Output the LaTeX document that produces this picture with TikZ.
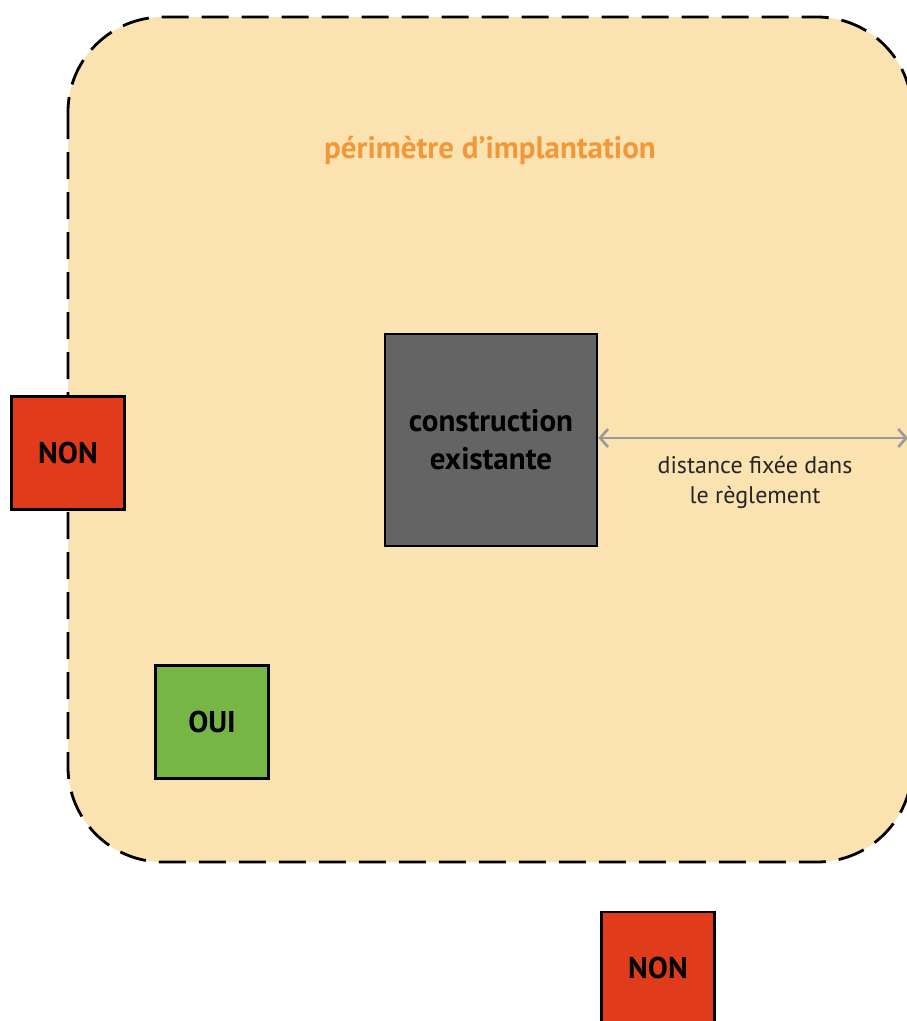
\documentclass[tikz,border=0pt]{standalone}
\usepackage{fontspec}
\setmainfont{PT Sans}
\usetikzlibrary{arrows.meta}
\definecolor{beige}{HTML}{FAE3B0}
\definecolor{titleorange}{HTML}{F2983A}
\definecolor{nonred}{HTML}{E03C1B}
\definecolor{ouigreen}{HTML}{77B545}
\definecolor{builtgray}{HTML}{646464}
\definecolor{arrowgray}{HTML}{9A9A9A}
\tikzset{
  sq/.style={draw=black, line width=2.6pt, minimum width=113pt, minimum height=113pt, inner sep=0pt, font=\fontsize{30}{34}\selectfont\bfseries, text=black},
  perim/.style={draw=black, fill=beige, line width=2.8pt, dash pattern=on 27pt off 13pt, rounded corners=95pt},
}
\begin{document}
\begin{tikzpicture}[x=1pt,y=-1pt]
\useasboundingbox (0,0) rectangle (907,1021);
\clip (0,0) rectangle (907,1021);
\fill[white] (0,0) rectangle (907,1021);
\draw[perim] (68,17) rectangle (912,862);
\node[text=titleorange, font=\fontsize{31}{34}\selectfont\bfseries] (title) at (490,150) {périmètre d’implantation};
\node[sq, fill=builtgray, minimum width=212pt, minimum height=212pt, align=center, font=\fontsize{31}{38}\selectfont\bfseries] (built) at (491,440) {construction\\existante};
\node[sq, fill=nonred] (nonleft) at (68,453) {NON};
\node[sq, fill=ouigreen] (oui) at (212,722) {OUI};
\node[sq, fill=nonred, minimum height=115pt] (nonbottom) at (658,969.5) {};
\node[font=\fontsize{30}{34}\selectfont\bfseries] (nonbottomtext) at (658,968) {NON};
\coordinate (edge) at (908,438);
\draw[arrowgray, line width=2.6pt, {Straight Barb[length=8pt,width=18pt]}-{Straight Barb[length=8pt,width=18pt]}] (built.east |- edge) -- (edge);
\node[align=center, text=black!85, font=\fontsize{24}{30}\selectfont] (dist) at (755,482) {distance fixée dans\\le règlement};
\end{tikzpicture}
\end{document}
